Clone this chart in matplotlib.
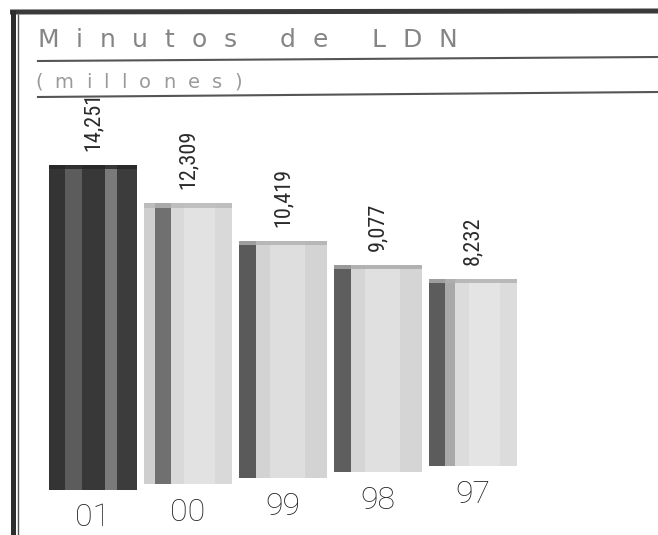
import matplotlib.pyplot as plt
from matplotlib import font_manager
from matplotlib.transforms import Affine2D

years = ['01', '00', '99', '98', '97']
minutes = [14251, 12309, 10419, 9077, 8232]
value_labels = ['14,251', '12,309', '10,419', '9,077', '8,232']
title = 'Minutos de LDN'
subtitle = '(millones)'

# vertical stripes of each bar: (start, stop) as fraction of bar width, colour
stripes = [
    [(0, .18, '#343434'), (.18, .38, '#5c5c5c'), (.38, .64, '#383838'),
     (.64, .77, '#7a7a7a'), (.77, 1, '#3c3c3c')],
    [(0, .13, '#cfcfcf'), (.13, .31, '#707070'), (.31, 1, '#d9d9d9'),
     (.45, .8, '#e2e2e2')],
    [(0, .2, '#5a5a5a'), (.2, 1, '#d3d3d3'), (.35, .75, '#dedede')],
    [(0, .2, '#5e5e5e'), (.2, 1, '#d5d5d5'), (.35, .75, '#e0e0e0')],
    [(0, .18, '#5c5c5c'), (.18, .3, '#a9a9a9'), (.3, 1, '#dcdcdc'),
     (.45, .8, '#e4e4e4')],
]
rims = ['#262626', '#b8b8b8', '#b0b0b0', '#a8a8a8', '#b0b0b0']

installed = {f.name for f in font_manager.fontManager.ttflist}


def first_font(*names):
    for n in names:
        if n in installed:
            return n
    return 'DejaVu Sans'


narrow = first_font('Roboto Condensed', 'Liberation Sans Narrow', 'DejaVu Sans')
light = first_font('Roboto', 'Open Sans', 'DejaVu Sans')

W, H = 658, 535
fig = plt.figure(figsize=(W / 100, H / 100), dpi=100)

# pixel-coordinate layer for the frame and header
deco = fig.add_axes([0, 0, 1, 1])
deco.set_xlim(0, W)
deco.set_ylim(H, 0)
deco.axis('off')

deco.plot([10, W], [12, 11], color='#3a3a3a', lw=3.6, solid_capstyle='butt')
deco.plot([13, 13], [10, H], color='#2e2e2e', lw=3.6, solid_capstyle='butt')
deco.plot([18, 18], [14, H], color='#555555', lw=1.0, solid_capstyle='butt')
deco.plot([38, W], [61, 57], color='#555555', lw=1.5)
deco.plot([38, W], [97, 92], color='#555555', lw=1.5)


def tracked(x0, x1, y, s, **kw):
    # spread the characters of s evenly between x0 and x1
    r = fig.canvas.get_renderer()
    widths = []
    for ch in s:
        t = deco.text(0, 0, 'n' if ch == ' ' else ch, **kw)
        w = t.get_window_extent(r).width
        t.remove()
        widths.append(w * 0.6 if ch == ' ' else w)
    gap = ((x1 - x0) - sum(widths)) / (len(s) - 1)
    x = x0
    for ch, w in zip(s, widths):
        if ch != ' ':
            deco.text(x, y, ch, ha='left', va='baseline', **kw)
        x += w + gap


tracked(37, 457, 47, title, fontsize=18, color='#858585', family='DejaVu Sans')
tracked(35, 242, 88, subtitle, fontsize=14, color='#9a9a9a', family='DejaVu Sans')

# bar area: 95 px per category, bars step up a little to the right
ax = fig.add_axes([45.5 / W, 45 / H, 608 / W, 364.8 / H])
ax.axis('off')
bw = 0.93
lift = 5.9
rim = 180

for i, (v, yr, lab) in enumerate(zip(minutes, years, value_labels)):
    tr = ax.transData + Affine2D().translate(0, i * lift)
    for a, b, c in stripes[i]:
        ax.bar(i - bw / 2 + a * bw, v, width=(b - a) * bw, align='edge',
               color=c, linewidth=0, transform=tr, clip_on=False)
    ax.bar(i - bw / 2, rim, bottom=v - rim, width=bw, align='edge',
           color=rims[i], linewidth=0, transform=tr, clip_on=False, alpha=0.8)
    ax.annotate(lab, xy=(i, v), xycoords=tr, xytext=(0, 14),
                textcoords='offset pixels', rotation=90, ha='center',
                va='bottom', fontsize=16, color='#2a2a2a', family=narrow)
    ax.annotate(yr, xy=(i, 0), xycoords=tr, xytext=(0, -28),
                textcoords='offset pixels', ha='center', va='center',
                fontsize=23, color='#222222', family=light,
                fontweight='light')

ax.set_xlim(-0.5, 5.9)
ax.set_ylim(0, 16000)

fig.savefig('out.png', dpi=100)
